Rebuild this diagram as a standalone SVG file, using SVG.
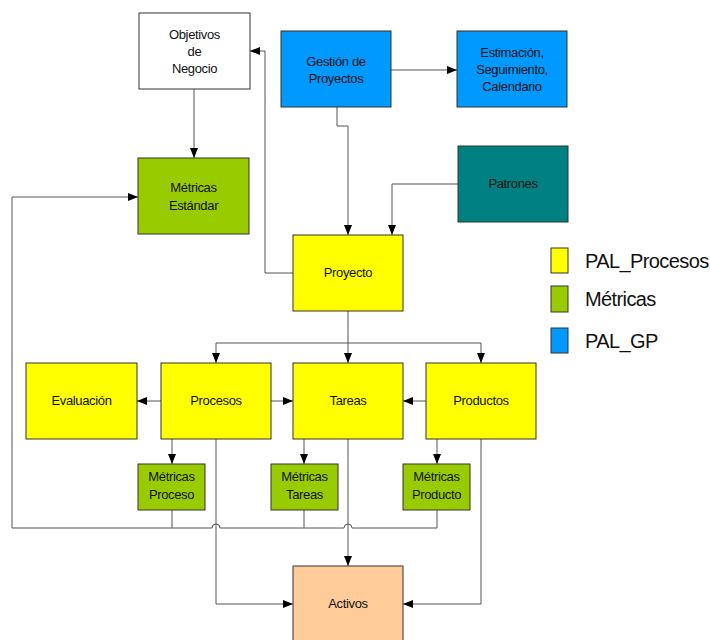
<svg xmlns="http://www.w3.org/2000/svg" width="710" height="640" viewBox="0 0 710 640">
  <style>
    .box { stroke: #333333; stroke-width: 1; }
    .pal { fill: #FFFF00; }
    .met { fill: #99CC00; }
    .gp { fill: #0099FF; }
    .lbl { font-family: "Liberation Sans", Arial, sans-serif; font-size: 13px; letter-spacing: -0.35px; fill: #111111; text-anchor: middle; }
    .leg { font-family: "Liberation Sans", Arial, sans-serif; font-size: 20px; letter-spacing: -0.6px; fill: #111111; }
    .wire { fill: none; stroke: #555555; stroke-width: 1; }
  </style>
  <defs>
    <marker id="arr" viewBox="0 0 10 8" refX="10" refY="4" markerWidth="10" markerHeight="8" markerUnits="userSpaceOnUse" orient="auto">
      <path d="M0,0 L10,4 L0,8 Z" fill="#000000"/>
    </marker>
  </defs>

  <rect width="710" height="640" fill="#FFFFFF"/>

  <!-- connectors -->
  <g id="connectors">
    <path class="wire" d="M194,89 V158" marker-end="url(#arr)"/>
    <path class="wire" d="M391,70 H457" marker-end="url(#arr)"/>
    <path class="wire" d="M337,107 V126 H348 V235" marker-end="url(#arr)"/>
    <path class="wire" d="M458,184 H392 V235" marker-end="url(#arr)"/>
    <path class="wire" d="M293,273 H265 V51 H250" marker-end="url(#arr)"/>
    <path class="wire" d="M348,311 V343"/>
    <path class="wire" d="M216,343 H481"/>
    <path class="wire" d="M216,343 V363" marker-end="url(#arr)"/>
    <path class="wire" d="M348,343 V363" marker-end="url(#arr)"/>
    <path class="wire" d="M481,343 V363" marker-end="url(#arr)"/>
    <path class="wire" d="M161,401 H137" marker-end="url(#arr)"/>
    <path class="wire" d="M271,401 H293" marker-end="url(#arr)"/>
    <path class="wire" d="M426,401 H403" marker-end="url(#arr)"/>
    <path class="wire" d="M172,439 V464" marker-end="url(#arr)"/>
    <path class="wire" d="M304,439 V464" marker-end="url(#arr)"/>
    <path class="wire" d="M437,439 V464" marker-end="url(#arr)"/>
    <path class="wire" d="M216,439 V604 H293" marker-end="url(#arr)"/>
    <path class="wire" d="M481,439 V604 H403" marker-end="url(#arr)"/>
    <path class="wire" d="M348,439 V566" marker-end="url(#arr)"/>
    <!-- metrics feedback loop with line hops -->
    <path class="wire" d="M172,510 V528"/>
    <path class="wire" d="M304,510 V528"/>
    <path class="wire" d="M437,510 V528"/>
    <path class="wire" d="M437,528 H352 A4,4 0 0 0 344,528 H220 A4,4 0 0 0 212,528 H12 V197 H138" marker-end="url(#arr)"/>
  </g>

  <!-- nodes -->
  <g id="objetivos">
    <rect class="box" x="139" y="13" width="111" height="76" fill="#FFFFFF"/>
    <text class="lbl" x="194.5" y="39">Objetivos</text>
    <text class="lbl" x="194.5" y="56">de</text>
    <text class="lbl" x="194.5" y="73">Negocio</text>
  </g>
  <g id="gestion">
    <rect class="box gp" x="281" y="31" width="110" height="76"/>
    <text class="lbl" x="336" y="66">Gestión de</text>
    <text class="lbl" x="336" y="83">Proyectos</text>
  </g>
  <g id="estimacion">
    <rect class="box gp" x="457" y="31" width="110" height="76"/>
    <text class="lbl" x="512" y="57">Estimación,</text>
    <text class="lbl" x="512" y="74">Seguimiento,</text>
    <text class="lbl" x="512" y="91">Calendario</text>
  </g>
  <g id="metricas-estandar">
    <rect class="box met" x="138" y="158" width="111" height="76"/>
    <text class="lbl" x="193.5" y="192">Métricas</text>
    <text class="lbl" x="193.5" y="210">Estándar</text>
  </g>
  <g id="patrones">
    <rect class="box" x="458" y="146" width="110" height="76" fill="#008080"/>
    <text class="lbl" x="513" y="188">Patrones</text>
  </g>
  <g id="proyecto">
    <rect class="box pal" x="293" y="235" width="110" height="76"/>
    <text class="lbl" x="348" y="277">Proyecto</text>
  </g>
  <g id="evaluacion">
    <rect class="box pal" x="26" y="363" width="111" height="76"/>
    <text class="lbl" x="81.5" y="405">Evaluación</text>
  </g>
  <g id="procesos">
    <rect class="box pal" x="161" y="363" width="110" height="76"/>
    <text class="lbl" x="216" y="405">Procesos</text>
  </g>
  <g id="tareas">
    <rect class="box pal" x="293" y="363" width="110" height="76"/>
    <text class="lbl" x="348" y="405">Tareas</text>
  </g>
  <g id="productos">
    <rect class="box pal" x="426" y="363" width="110" height="76"/>
    <text class="lbl" x="481" y="405">Productos</text>
  </g>
  <g id="metricas-proceso">
    <rect class="box met" x="138" y="464" width="67" height="46"/>
    <text class="lbl" x="171.5" y="481">Métricas</text>
    <text class="lbl" x="171.5" y="499">Proceso</text>
  </g>
  <g id="metricas-tareas">
    <rect class="box met" x="271" y="464" width="67" height="46"/>
    <text class="lbl" x="304.5" y="481">Métricas</text>
    <text class="lbl" x="304.5" y="499">Tareas</text>
  </g>
  <g id="metricas-producto">
    <rect class="box met" x="403" y="464" width="67" height="46"/>
    <text class="lbl" x="436.5" y="481">Métricas</text>
    <text class="lbl" x="436.5" y="499">Producto</text>
  </g>
  <g id="activos">
    <rect class="box" x="293" y="566" width="110" height="80" fill="#FFCC99"/>
    <text class="lbl" x="348" y="608">Activos</text>
  </g>

  <!-- legend -->
  <g id="legend">
    <rect class="box pal" x="551" y="248" width="17" height="25"/>
    <text class="leg" x="585" y="268">PAL_Procesos</text>
    <rect class="box met" x="551" y="286" width="17" height="26"/>
    <text class="leg" x="585" y="306">Métricas</text>
    <rect class="box gp" x="551" y="328" width="17" height="25"/>
    <text class="leg" x="585" y="348">PAL_GP</text>
  </g>
</svg>
